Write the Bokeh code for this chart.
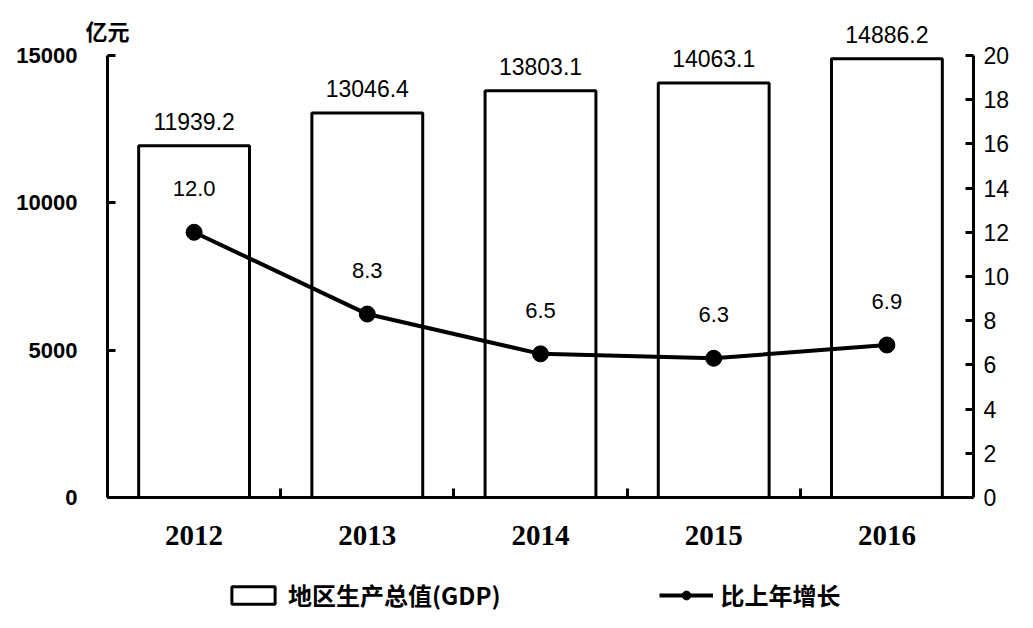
from bokeh.plotting import figure
from bokeh.models import (ColumnDataSource, Range1d, LinearAxis, FixedTicker, Label,
                          Legend, LegendItem, LabelSet)
from bokeh.embed import file_html
from bokeh.resources import INLINE
from bokeh.core.properties import value

years = ["2012", "2013", "2014", "2015", "2016"]
gdp = [11939.2, 13046.4, 13803.1, 14063.1, 14886.2]
growth = [12.0, 8.3, 6.5, 6.3, 6.9]
gdp_labels = ["11939.2", "13046.4", "13803.1", "14063.1", "14886.2"]
growth_labels = ["12.0", "8.3", "6.5", "6.3", "6.9"]
left_ticks = [0, 5000, 10000, 15000]
right_ticks = [0, 2, 4, 6, 8, 10, 12, 14, 16, 18, 20]

xs = [i + 0.5 for i in range(len(years))]
src = ColumnDataSource(dict(x=xs, gdp=gdp, growth=growth, gl=gdp_labels, rl=growth_labels))

YMIN, YMAX = -3903, 16697
K = 20 / 15000
XMIN = -107 / 173.2

p = figure(frame_width=973, frame_height=607, output_backend="svg", toolbar_location=None,
           x_range=Range1d(XMIN, 5), y_range=Range1d(YMIN, YMAX),
           min_border_left=0, min_border_right=44, min_border_top=5, min_border_bottom=0)
p.outline_line_color = None
p.xgrid.visible = False
p.ygrid.visible = False
p.background_fill_color = "white"

p.extra_y_ranges = {"pct": Range1d(YMIN * K, YMAX * K)}

bars = p.vbar(x="x", top="gdp", width=0.64, source=src, fill_color="white",
              line_color="black", line_width=3)
line = p.line(x="x", y="growth", source=src, y_range_name="pct", line_color="black", line_width=4)
pts = p.scatter(x="x", y="growth", source=src, y_range_name="pct", size=16,
                fill_color="black", line_color="black")

p.add_layout(LabelSet(x="x", y="gdp", text="gl", source=src, y_offset=16,
                      text_align="center", text_baseline="alphabetic",
                      text_font=value("Liberation Sans"), text_font_size="23px",
                      text_color="black"))
p.add_layout(LabelSet(x="x", y="growth", text="rl", source=src, y_range_name="pct",
                      y_offset=36, text_align="center", text_baseline="alphabetic",
                      text_font=value("Liberation Sans"), text_font_size="22px",
                      text_color="black"))

# axes
xa = p.xaxis[0]
xa.fixed_location = 0
xa.bounds = (0, 5)
xa.ticker = FixedTicker(ticks=xs, minor_ticks=[1, 2, 3, 4])
xa.major_label_overrides = {x: y for x, y in zip(xs, years)}
xa.axis_line_width = 3
xa.axis_line_color = "black"
xa.major_tick_in = 0
xa.major_tick_out = 0
xa.minor_tick_in = 9
xa.minor_tick_out = 0
xa.minor_tick_line_width = 3
xa.minor_tick_line_color = "black"
xa.major_label_text_font = "Liberation Serif"
xa.major_label_text_font_style = "bold"
xa.major_label_text_font_size = "29px"
xa.major_label_text_color = "black"
xa.major_label_standoff = 29

ya = p.yaxis[0]
ya.fixed_location = 0
ya.ticker = FixedTicker(ticks=left_ticks)
ya.bounds = (0, 15000)
ya.axis_line_width = 3
ya.axis_line_color = "black"
ya.major_tick_in = 8
ya.major_tick_out = 0
ya.major_tick_line_width = 3
ya.minor_tick_line_color = None
ya.major_label_text_font = "Liberation Sans"
ya.major_label_text_font_style = "bold"
ya.major_label_text_font_size = "22px"
ya.major_label_text_color = "black"
ya.major_label_standoff = 30

ra = LinearAxis(y_range_name="pct", ticker=FixedTicker(ticks=right_ticks), bounds=(0, 20))
ra.axis_line_width = 3
ra.axis_line_color = "black"
ra.major_tick_in = 8
ra.major_tick_out = 0
ra.major_tick_line_width = 3
ra.minor_tick_line_color = None
ra.major_label_text_font = "Liberation Sans"
ra.major_label_text_font_style = "normal"
ra.major_label_text_font_size = "23px"
ra.major_label_text_color = "black"
ra.major_label_standoff = 10
p.add_layout(ra, "right")

p.add_layout(Label(x=0.0, y=15850, text="亿元", text_align="center", text_baseline="middle",
                   text_font="Noto Sans CJK SC", text_font_style="bold",
                   text_font_size="22px", text_color="black"))
p.add_layout(Label(x=5.1, y=15900, text="%", text_align="center", text_baseline="middle",
                   text_font="Liberation Sans", text_font_style="bold",
                   text_font_size="19px", text_color="black"))

legend = Legend(items=[LegendItem(label="地区生产总值(GDP)", renderers=[bars]),
                       LegendItem(label="比上年增长", renderers=[line, pts])],
                orientation="horizontal", location=(226, 0),
                label_text_font="Noto Sans CJK SC", label_text_font_style="bold",
                label_text_font_size="24px", label_text_color="black",
                glyph_width=54, glyph_height=22, spacing=158, label_standoff=8,
                border_line_color=None, background_fill_alpha=0, margin=0,
                padding=0)
p.add_layout(legend, "center")

open("out.html", "w").write(file_html(p, INLINE))
